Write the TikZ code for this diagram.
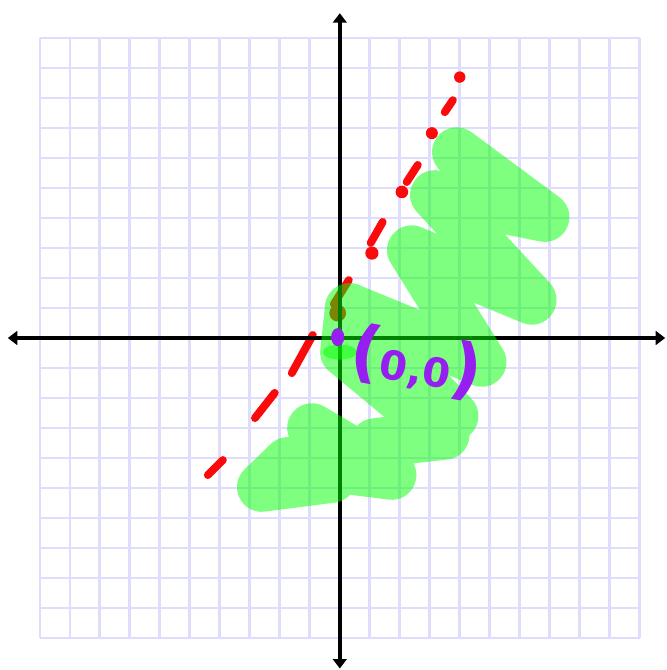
\documentclass[tikz,border=0pt]{standalone}
\usepackage{fontspec}
\setsansfont{DejaVu Sans}
\usetikzlibrary{arrows.meta}
\definecolor{gridblue}{RGB}{222,222,252}
\definecolor{scribblegreen}{RGB}{0,255,0}
\definecolor{dashred}{RGB}{250,10,10}
\definecolor{pointpurple}{RGB}{150,30,240}

\begin{document}
\begin{tikzpicture}[
  gridline/.style={line width=2.6pt, gridblue},
  axis/.style={line width=3.6pt, {Triangle[length=9pt,width=13pt]}-{Triangle[length=9pt,width=13pt]}},
  reddash/.style={line width=7.5pt, dashred, line cap=round},
  scribble/.style={line width=1.65cm, scribblegreen, line cap=round, line join=round},
  originlabel/.style={text=pointpurple, rotate=-10, font=\sffamily\bfseries, inner sep=0pt}
]
  \useasboundingbox (-11.33,-11.07) rectangle (10.9,11.27);
  \draw[gridline] (-10,-10) grid (10,10);
  % red dashes and dots along the line
  \foreach \xa/\ya/\xb/\yb in {3.77/7.93/3.5/7.53, 2.6/5.77/2.23/5.2, 1.43/3.87/1.03/3.17,
      0.3/1.93/-0.2/1.13, -0.9/0.1/-1.6/-1.17, -2.17/-1.83/-2.83/-2.67, -3.9/-4.07/-4.4/-4.57}
    \draw[reddash] (\xa,\ya) -- (\xb,\yb);
  \foreach \x/\y/\r in {4.0/8.7/0.19, 3.07/6.83/0.2, 2.07/4.87/0.21, 1.07/2.83/0.22, -0.07/0.83/0.28}
    \fill[dashred] (\x,\y) circle (\r);
  \draw[axis] (-11.07,0) -- (10.85,0);
  \draw[axis] (0,-11.02) -- (0,10.83);
  % green scribble, see-through
  \begin{scope}[transparency group, opacity=0.5]
    \draw[scribble] (3.9,6.2) -- (6.83,4.03) -- (3.17,4.77) -- (6.4,1.27) -- (2.4,2.93)
      -- (4.73,-0.8) -- (0.33,1.0) -- (0.17,-0.47) -- (3.5,-3.23) -- (1.17,-3.5);
    \draw[scribble] (0.33,1.0) -- (3.8,-2.6);
    \draw[scribble] (-0.93,-3.0) -- (1.73,-4.57) -- (-1.73,-4.13) -- (-2.6,-4.97) -- (-0.27,-4.67);
  \end{scope}
  \fill[scribblegreen, opacity=0.5] (0,-0.47) ellipse (0.57 and 0.25);
  % the origin
  \fill[pointpurple] (-0.07,0.03) ellipse (0.22 and 0.3);
  \node[originlabel] (label) at (2.55,-0.82)
    {\fontsize{64}{64}\selectfont(\fontsize{38}{38}\selectfont0,0\fontsize{64}{64}\selectfont)};
\end{tikzpicture}
\end{document}
